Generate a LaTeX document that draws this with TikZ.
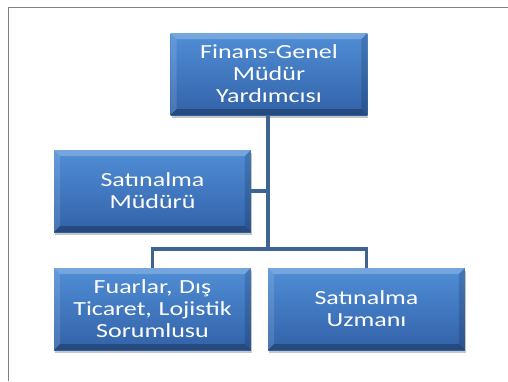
\documentclass[tikz,border=0pt]{standalone}
\usepackage{fontspec}
\setmainfont{Carlito}[FakeStretch=1.3]
\usepackage{tikz}
\usetikzlibrary{shadows}
\definecolor{boxtop}{RGB}{80,142,214}
\definecolor{boxbot}{RGB}{50,98,168}
\definecolor{linkblue}{RGB}{62,100,147}
\definecolor{framegray}{RGB}{128,128,128}

\tikzset{
  unitbox/.style={minimum width=193pt, minimum height=82pt, text width=190pt,
    align=center, text=white, font=\fontsize{20}{22}\selectfont,
    top color=boxtop, bottom color=boxbot, draw=none,
    drop shadow={opacity=0.45, shadow xshift=1pt, shadow yshift=-3pt},
    path picture={
      \fill[white,opacity=0.22] (path picture bounding box.north west) -- (path picture bounding box.north east)
        -- ([xshift=-6pt,yshift=-6pt]path picture bounding box.north east) -- ([xshift=6pt,yshift=-6pt]path picture bounding box.north west) -- cycle;
      \fill[white,opacity=0.12] (path picture bounding box.north west) -- (path picture bounding box.south west)
        -- ([xshift=6pt,yshift=6pt]path picture bounding box.south west) -- ([xshift=6pt,yshift=-6pt]path picture bounding box.north west) -- cycle;
      \fill[black,opacity=0.25] (path picture bounding box.south west) -- (path picture bounding box.south east)
        -- ([xshift=-6pt,yshift=6pt]path picture bounding box.south east) -- ([xshift=6pt,yshift=6pt]path picture bounding box.south west) -- cycle;
      \fill[black,opacity=0.15] (path picture bounding box.north east) -- (path picture bounding box.south east)
        -- ([xshift=-6pt,yshift=6pt]path picture bounding box.south east) -- ([xshift=-6pt,yshift=-6pt]path picture bounding box.north east) -- cycle;
    }},
  link/.style={draw=linkblue, line width=3.5pt}
}

\begin{document}
\begin{tikzpicture}[x=1pt,y=-1pt]
\useasboundingbox (0,0) rectangle (508,381);
%frame
\draw [framegray,line width=1.5pt] (8.5,381) -- (8.5,7.5) -- (508,7.5);

\node (gmy) at (269,74) [unitbox] {Finans-Genel\\Müdür\\Yardımcısı};
\node (mudur) at (152.5,191) [unitbox] {Satınalma\\Müdürü};
\node (fuar) at (152.5,309) [unitbox] {Fuarlar, Dış\\Ticaret, Lojistik\\Sorumlusu};
\node (uzman) at (366.5,309) [unitbox] {Satınalma\\Uzmanı};

\coordinate (bus) at (268,249);

\draw [link] ([xshift=-1pt]gmy.south) -- ([xshift=-1pt]gmy.south |- bus);
\draw [link] (mudur.east) -- (mudur.east -| bus);
\draw [link] (fuar.north) |- (bus) -| (uzman.north);
\end{tikzpicture}
\end{document}
